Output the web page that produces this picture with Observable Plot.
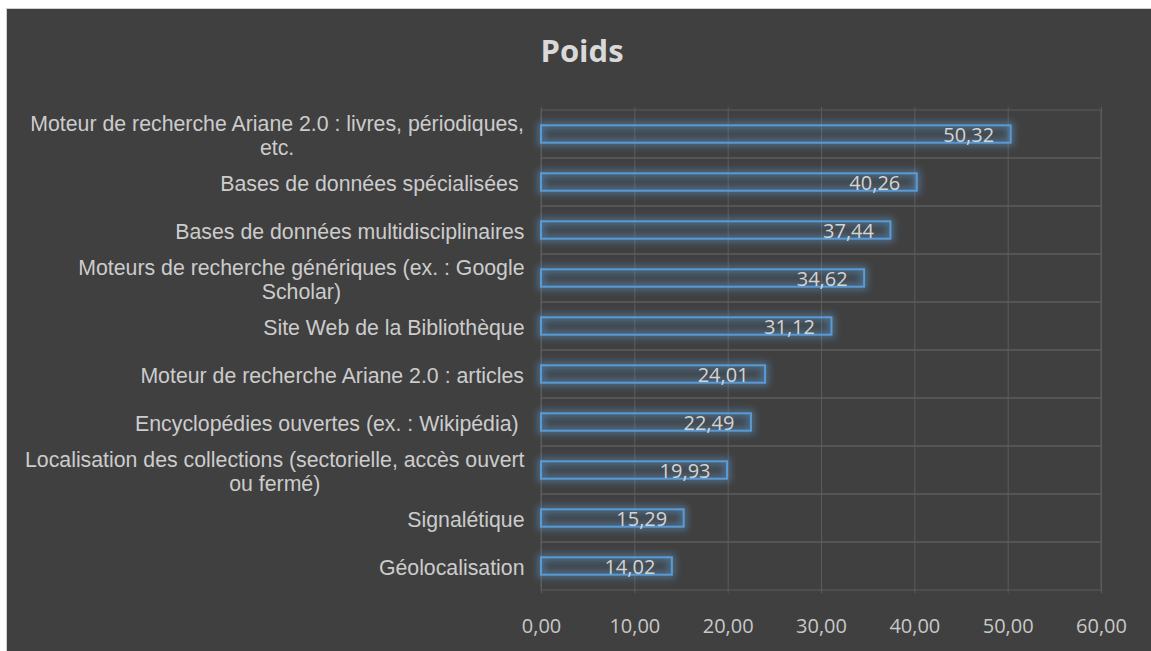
<!DOCTYPE html>
<html>
<head>
<meta charset="utf-8">
<script src="https://cdn.jsdelivr.net/npm/d3@7"></script>
<script src="https://cdn.jsdelivr.net/npm/@observablehq/plot@0.6"></script>
<style>
  html, body { margin: 0; padding: 0; background: #ffffff; width: 1151px; height: 651px; overflow: hidden; }
  #panel { position: absolute; left: 6px; top: 8px; width: 1200px; height: 700px; background: #404040;
           border-top: 1px solid #d0d0d0; border-left: 1px solid #d0d0d0; }
  #title { position: absolute; left: 382px; top: 35px; width: 400px; text-align: center;
           font-family: "Open Sans", sans-serif; font-weight: 700; font-size: 31px; line-height: 31px; color: #d9d9d9; }
  #chart { position: absolute; left: 0; top: 80px; }
</style>
</head>
<body>
<div id="panel"></div>
<div id="title">Poids</div>
<div id="chart"></div>
<script>
const categories = [
  "Moteur de recherche Ariane 2.0 : livres, périodiques, etc.",
  "Bases de données spécialisées ",
  "Bases de données multidisciplinaires",
  "Moteurs de recherche génériques (ex. : Google Scholar)",
  "Site Web de la Bibliothèque",
  "Moteur de recherche Ariane 2.0 : articles",
  "Encyclopédies ouvertes (ex. : Wikipédia) ",
  "Localisation des collections (sectorielle, accès ouvert ou fermé)",
  "Signalétique",
  "Géolocalisation"
];
const values = [50.32, 40.26, 37.44, 34.62, 31.12, 24.01, 22.49, 19.93, 15.29, 14.02];
const xTicks = [0, 10, 20, 30, 40, 50, 60];

const data = categories.map((c, i) => ({category: c, value: values[i]}));

const W = 1151, H = 571;
const mL = 541, mR = 50, mT = 27, mB = 58;
const step = (H - mT - mB) / categories.length;
const barH = 18;
const inset = (step - barH) / 2;

// wrap category labels like the source (centered lines, right-aligned block)
const catSize = 21.3;
const catFont = catSize + "px 'Liberation Sans', Arial, sans-serif";
const ctx = document.createElement("canvas").getContext("2d");
ctx.font = catFont;
function wrap(s) {
  const words = s.split(" ");
  const lines = [];
  let cur = "";
  for (const w of words) {
    const t = cur ? cur + " " + w : w;
    if (ctx.measureText(t).width > 500 && cur) { lines.push(cur); cur = w; }
    else cur = t;
  }
  lines.push(cur);
  return lines;
}
const labelData = categories.map(c => {
  const lines = wrap(c);
  const w = Math.max(...lines.map(l => ctx.measureText(l).width));
  return {category: c, text: lines.map(l => l.replace(/ $/, "\u00a0")).join("\n"), w};
});

const fmt = d => d.toFixed(2).replace(".", ",");

const chart = Plot.plot({
  width: W, height: H,
  marginLeft: mL, marginRight: mR, marginTop: mT, marginBottom: mB,
  style: {background: "transparent", color: "#d9d9d9", overflow: "visible"},
  x: {domain: [0, 60], ticks: xTicks, label: null},
  y: {domain: categories, padding: 0, label: null},
  marks: [
    Plot.ruleX(xTicks, {stroke: "#5c5c5c", strokeWidth: 1}),
    Plot.barX(categories, {y: d => d, x1: 0, x2: 60, fill: "none", stroke: "#5c5c5c", strokeWidth: 1}),
    Plot.barX(data, {y: "category", x: "value", insetTop: inset, insetBottom: inset,
      fill: "none", stroke: "#5b9bd5", strokeWidth: 6, strokeOpacity: 0.55}),
    Plot.barX(data, {y: "category", x: "value", insetTop: inset, insetBottom: inset,
      fill: "#5b9bd5", fillOpacity: 0.07, stroke: "#5b9bd5", strokeWidth: 2}),
    Plot.text(data, {y: "category", x: "value", text: d => fmt(d.value), textAnchor: "end", dx: -17, dy: 1,
      fill: "#d4d4d4", fontSize: 20, fontFamily: "'Open Sans', sans-serif"}),
    Plot.text(labelData, {y: "category", x: () => 0, text: "text", textAnchor: "middle",
      dx: -17, dy: 1, lineHeight: 1.1, fill: "#cccccc", fontSize: catSize,
      fontFamily: "'Liberation Sans', Arial, sans-serif"}),
    Plot.axisX({ticks: xTicks, tickFormat: fmt, tickSize: 0, tickPadding: 25, fontSize: 20,
      fontFamily: "'Open Sans', sans-serif", fill: "#c8c8c8", label: null}),
    Plot.axisY({ticks: [], label: null})
  ]
});

// shift each category block so its right edge sits 17px left of the plot, lines centered
const catTexts = chart.querySelectorAll('g[aria-label="text"]')[1].querySelectorAll("text");
catTexts.forEach((t, i) => {
  const tr = t.getAttribute("transform") || "";
  t.setAttribute("transform", tr + ` translate(${-labelData[i].w / 2},0)`);
});

// glow filter on the halo bars
const ns = "http://www.w3.org/2000/svg";
const defs = document.createElementNS(ns, "defs");
defs.innerHTML = '<filter id="glow" x="-10%" y="-150%" width="120%" height="400%"><feGaussianBlur stdDeviation="3.5"/></filter>';
chart.insertBefore(defs, chart.firstChild);
const barGroups = chart.querySelectorAll('g[aria-label="bar"]');
barGroups[1].setAttribute("filter", "url(#glow)");

document.getElementById("chart").appendChild(chart);
</script>
</body>
</html>
